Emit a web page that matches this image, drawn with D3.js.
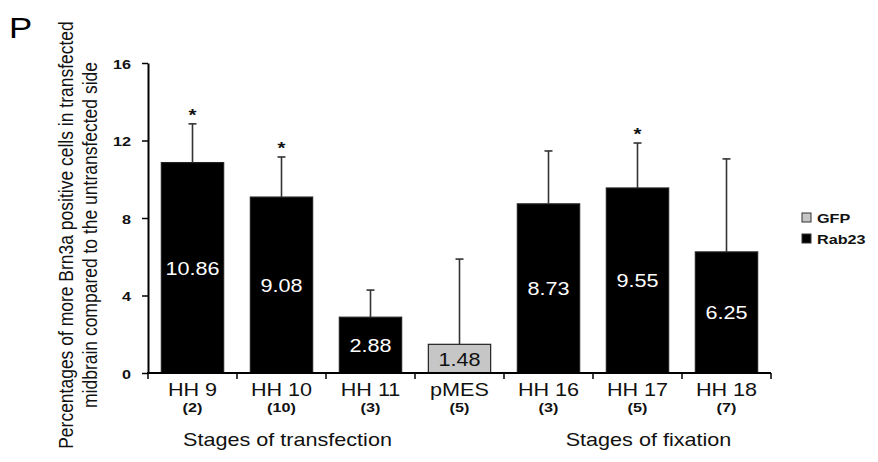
<!DOCTYPE html>
<html>
<head>
<meta charset="utf-8">
<script src="https://cdn.jsdelivr.net/npm/d3@7"></script>
<style>
  html, body { margin: 0; padding: 0; background: #fff; }
  svg { display: block; font-family: "Liberation Sans", Arial, sans-serif; }
</style>
</head>
<body>
<svg id="chart" width="878" height="462"></svg>
<script>
// Stage categories and sample sizes
const categories = ["HH 9", "HH 10", "HH 11", "pMES", "HH 16", "HH 17", "HH 18"];
const sampleSizes = ["(2)", "(10)", "(3)", "(5)", "(3)", "(5)", "(7)"];
// Percentage of extra Brn3a-positive cells (bar height) and error (upper whisker)
const values = [10.86, 9.08, 2.88, 1.48, 8.73, 9.55, 6.25];
const errors = [2.0, 2.07, 1.4, 4.4, 2.73, 2.32, 4.8];
const construct = ["Rab23", "Rab23", "Rab23", "GFP", "Rab23", "Rab23", "Rab23"];
const significant = [true, true, false, false, false, true, false];
const yTicks = [0, 4, 8, 12, 16];
const legendItems = ["GFP", "Rab23"];
const groups = [
  { label: "Stages of transfection", from: 0, to: 2, dx: 6 },
  { label: "Stages of fixation", from: 4, to: 6, dx: 11 }
];

const SX = 1.2; // horizontal glyph stretch
const colors = { GFP: "#c6c6c6", Rab23: "#000000" };

const svg = d3.select("#chart");

const x = d3.scaleBand().domain(categories).range([148, 771])
  .paddingInner(0.3).paddingOuter(0.15);
const y = d3.scaleLinear().domain([0, 16]).range([373, 63]);

const txt = (sel, x0, y0, extra = "") =>
  sel.attr("transform", `translate(${x0},${y0}) scale(${SX},1) ${extra}`);

// Panel letter
txt(svg.append("text"), 9, 38).attr("font-size", 29).attr("fill", "#000").text("P");

// Y axis
const yAxis = svg.append("g").attr("transform", "translate(148,0)")
  .call(d3.axisLeft(y).tickValues(yTicks).tickSize(6).tickSizeOuter(0).tickFormat(d3.format("d")));
yAxis.select(".domain").attr("stroke", "#000").attr("stroke-width", 2);
yAxis.selectAll(".tick line").attr("stroke", "#000").attr("stroke-width", 1.5);
yAxis.selectAll(".tick text").remove();
yAxis.selectAll(".tick").each(function (d) {
  txt(d3.select(this).append("text"), -17, 5)
    .attr("text-anchor", "end").attr("font-size", 13.5).attr("font-weight", "bold")
    .attr("fill", "#111").text(d);
});

// Y axis title (two lines)
const titleLines = [
  "Percentages of more Brn3a positive cells in transfected",
  "midbrain compared to the untransfected side"
];
titleLines.forEach((line, i) => {
  txt(svg.append("text"), 73 + i * 24, 235, "rotate(-90)")
    .attr("text-anchor", "middle").attr("font-size", 17.5).attr("fill", "#111").text(line);
});

// Bars
svg.append("g").selectAll("rect").data(categories).join("rect")
  .attr("x", d => x(d))
  .attr("y", (d, i) => y(values[i]))
  .attr("width", x.bandwidth())
  .attr("height", (d, i) => y(0) - y(values[i]))
  .attr("fill", (d, i) => colors[construct[i]])
  .attr("stroke", "#222").attr("stroke-width", 1.2);

// Error whiskers (upper only)
const eb = svg.append("g").attr("stroke", "#333").attr("stroke-width", 1.6);
categories.forEach((c, i) => {
  const cx = x(c) + x.bandwidth() / 2;
  eb.append("line").attr("x1", cx).attr("x2", cx)
    .attr("y1", y(values[i])).attr("y2", y(values[i] + errors[i]));
  eb.append("line").attr("x1", cx - 4).attr("x2", cx + 4)
    .attr("y1", y(values[i] + errors[i])).attr("y2", y(values[i] + errors[i]));
});

// Significance stars
categories.forEach((c, i) => {
  if (!significant[i]) return;
  const cx = x(c) + x.bandwidth() / 2;
  txt(svg.append("text"), cx, y(values[i] + errors[i]) - 3)
    .attr("text-anchor", "middle").attr("font-size", 17).attr("font-weight", "bold")
    .attr("fill", "#111").text("*");
});

// Value labels inside bars
categories.forEach((c, i) => {
  const cx = x(c) + x.bandwidth() / 2;
  const cy = (y(values[i]) + y(0)) / 2;
  txt(svg.append("text"), cx, cy + 7)
    .attr("text-anchor", "middle").attr("font-size", 18)
    .attr("fill", construct[i] === "GFP" ? "#111" : "#fff")
    .text(values[i].toFixed(2));
});

// X axis baseline and boundary ticks
const xa = svg.append("g");
const half = x.step() * x.paddingInner() / 2;
const bounds = [148].concat(categories.map(c => x(c) + x.bandwidth() + half));
xa.append("line").attr("x1", 147).attr("x2", d3.max(bounds))
  .attr("y1", y(0)).attr("y2", y(0)).attr("stroke", "#000").attr("stroke-width", 2);
xa.selectAll("line.t").data(bounds).join("line").attr("class", "t")
  .attr("x1", d => d).attr("x2", d => d)
  .attr("y1", y(0)).attr("y2", y(0) + 6).attr("stroke", "#000").attr("stroke-width", 1.5);

// Category labels and sample sizes
categories.forEach((c, i) => {
  const cx = x(c) + x.bandwidth() / 2;
  txt(svg.append("text"), cx, 396).attr("text-anchor", "middle")
    .attr("font-size", 18).attr("fill", "#111").text(c);
  txt(svg.append("text"), cx, 412).attr("text-anchor", "middle")
    .attr("font-size", 13.5).attr("font-weight", "bold").attr("fill", "#111").text(sampleSizes[i]);
});

// Group labels
groups.forEach(g => {
  const x0 = x(categories[g.from]);
  const x1 = x(categories[g.to]) + x.bandwidth();
  txt(svg.append("text"), (x0 + x1) / 2 + g.dx, 446).attr("text-anchor", "middle")
    .attr("font-size", 18).attr("fill", "#111").text(g.label);
});

// Legend
const lg = svg.append("g").attr("transform", "translate(802,213)");
legendItems.forEach((k, i) => {
  lg.append("rect").attr("x", 0).attr("y", i * 21).attr("width", 9).attr("height", 9)
    .attr("fill", colors[k]).attr("stroke", "#333").attr("stroke-width", 1);
  txt(lg.append("text"), 15, i * 21 + 10).attr("font-size", 13.5).attr("font-weight", "bold")
    .attr("fill", "#111").text(k);
});
</script>
</body>
</html>
